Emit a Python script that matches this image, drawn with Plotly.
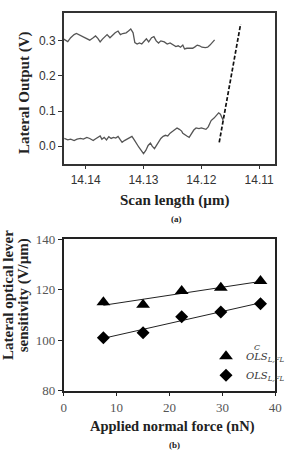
import numpy as np
import plotly.graph_objects as go

# ---------- Panel (a) data ----------
upper_x = [14.1438, 14.1431, 14.1426, 14.1420, 14.1416, 14.1410, 14.1404, 14.1398, 14.1393, 14.1387,
           14.1383, 14.1379, 14.1375, 14.1371, 14.1367, 14.1363, 14.1358, 14.1355, 14.1349, 14.1344,
           14.1340, 14.1336, 14.1330, 14.1326, 14.1322, 14.1318, 14.1315, 14.1311, 14.1307, 14.1303,
           14.1298, 14.1295, 14.1291, 14.1286, 14.1282, 14.1278, 14.1274, 14.1270, 14.1264, 14.1259,
           14.1254, 14.1248, 14.1244, 14.1240, 14.1236, 14.1232, 14.1229, 14.1225, 14.1221, 14.1215,
           14.1211, 14.1207, 14.1203, 14.1199, 14.1193, 14.1189, 14.1185, 14.1181, 14.1177]
upper_y = [0.305, 0.298, 0.309, 0.318, 0.321, 0.316, 0.311, 0.305, 0.302, 0.309,
           0.314, 0.307, 0.297, 0.305, 0.311, 0.318, 0.309, 0.314, 0.323, 0.328,
           0.318, 0.321, 0.323, 0.328, 0.334, 0.323, 0.295, 0.291, 0.294, 0.291,
           0.300, 0.306, 0.297, 0.309, 0.312, 0.300, 0.294, 0.300, 0.297, 0.291,
           0.294, 0.288, 0.284, 0.286, 0.282, 0.288, 0.277, 0.279, 0.279, 0.279,
           0.283, 0.288, 0.286, 0.282, 0.281, 0.282, 0.288, 0.297, 0.303]

lower_x = [14.1437, 14.1431, 14.1426, 14.1420, 14.1415, 14.1409, 14.1404, 14.1398, 14.1393, 14.1387,
           14.1384, 14.1379, 14.1375, 14.1372, 14.1368, 14.1364, 14.1360, 14.1356, 14.1352, 14.1348,
           14.1344, 14.1340, 14.1337, 14.1333, 14.1329, 14.1325, 14.1320, 14.1316, 14.1313, 14.1308,
           14.1304, 14.1300, 14.1296, 14.1292, 14.1288, 14.1285, 14.1281, 14.1277, 14.1274, 14.1270,
           14.1266, 14.1262, 14.1258, 14.1254, 14.1249, 14.1245, 14.1242, 14.1238, 14.1234, 14.1232,
           14.1228, 14.1225, 14.1221, 14.1217, 14.1213, 14.1209, 14.1204, 14.1200, 14.1196, 14.1192,
           14.1188, 14.1185, 14.1183, 14.1178, 14.1174, 14.1170, 14.1167, 14.1164, 14.1162]
lower_y = [0.022, 0.018, 0.020, 0.016, 0.020, 0.022, 0.020, 0.025, 0.022, 0.016,
           0.020, 0.025, 0.029, 0.020, 0.025, 0.018, 0.027, 0.022, 0.025, 0.023,
           0.028, 0.018, 0.011, 0.016, 0.020, 0.022, 0.028, 0.018, 0.009, -0.003,
           -0.012, -0.021, -0.012, 0.002, 0.009, 0.000, -0.007, 0.004, 0.013, 0.022,
           0.028, 0.031, 0.029, 0.037, 0.043, 0.048, 0.052, 0.048, 0.043, 0.037,
           0.031, 0.029, 0.025, 0.037, 0.046, 0.052, 0.050, 0.052, 0.050, 0.048,
           0.055, 0.064, 0.073, 0.080, 0.089, 0.095, 0.091, 0.077, 0.073]

fit_a_x = [14.1169, 14.1132]
fit_a_y = [0.011, 0.348]

a_xticks = [14.14, 14.13, 14.12, 14.11]
a_yticks = [0.0, 0.1, 0.2, 0.3]

# ---------- Panel (b) data ----------
force = [7.5, 15.0, 22.3, 29.7, 37.2]
ols_c = [115.0, 114.0, 119.5, 120.8, 123.4]
ols = [101.0, 102.9, 109.3, 111.2, 114.4]

b_xticks = [0, 10, 20, 30, 40]
b_yticks = [80, 100, 120, 140]

W, H = 293, 462

fig = go.Figure()

# Panel (a)
fig.add_trace(go.Scatter(x=upper_x, y=upper_y, mode="lines", line=dict(color="#555555", width=1.3),
                         xaxis="x", yaxis="y", showlegend=False, hoverinfo="skip"))
fig.add_trace(go.Scatter(x=lower_x, y=lower_y, mode="lines", line=dict(color="#555555", width=1.3),
                         xaxis="x", yaxis="y", showlegend=False, hoverinfo="skip"))
fig.add_trace(go.Scatter(x=fit_a_x, y=fit_a_y, mode="lines",
                         line=dict(color="#111111", width=1.7, dash="4px,2px"),
                         xaxis="x", yaxis="y", showlegend=False, hoverinfo="skip"))

# Panel (b) fit lines
fx = np.array(force)
for ys in (ols_c, ols):
    k, b = np.polyfit(fx, np.array(ys), 1)
    xs = [force[0], force[-1]]
    fig.add_trace(go.Scatter(x=xs, y=[k * v + b for v in xs], mode="lines",
                             line=dict(color="#222222", width=1),
                             xaxis="x2", yaxis="y2", showlegend=False, hoverinfo="skip"))

legend_name = "<i>OLS</i><sub><i>L,FL</i></sub>"
fig.add_trace(go.Scatter(x=force, y=ols_c, mode="markers", name=legend_name,
                         marker=dict(symbol="triangle-up", size=12, color="black"),
                         xaxis="x2", yaxis="y2"))
fig.add_trace(go.Scatter(x=force, y=ols, mode="markers", name=legend_name + " ",
                         marker=dict(symbol="diamond", size=10, color="black"),
                         xaxis="x2", yaxis="y2"))

xdom = [64 / W, 287 / W]
axis_common = dict(showgrid=False, zeroline=False, showline=True, mirror=True,
                   ticks="outside", ticklen=4, tickwidth=1)

fig.update_layout(
    width=W, height=H,
    margin=dict(l=0, r=0, t=0, b=0),
    paper_bgcolor="white", plot_bgcolor="white",
    xaxis=dict(domain=xdom, anchor="y", range=[14.1438, 14.1072],
               tickvals=a_xticks, ticktext=[f"{v:.2f}" for v in a_xticks],
               linecolor="#333333", linewidth=1.5, tickcolor="#333333",
               tickfont=dict(family="Liberation Sans", size=12, color="#333333"),
               **axis_common),
    yaxis=dict(domain=[1 - 162 / H, 1 - 6 / H], anchor="x", range=[-0.05, 0.38],
               tickvals=a_yticks, ticktext=[f"{v:.1f}" for v in a_yticks],
               linecolor="#333333", linewidth=1.5, tickcolor="#333333",
               tickfont=dict(family="Liberation Sans", size=12, color="#333333"),
               **axis_common),
    xaxis2=dict(domain=xdom, anchor="y2", range=[0, 40],
                tickvals=b_xticks,
                linecolor="#222222", linewidth=1.5, tickcolor="#222222",
                tickfont=dict(family="Liberation Serif", size=13, color="#555555"),
                **axis_common),
    yaxis2=dict(domain=[1 - 396.5 / H, 1 - 240 / H], anchor="x2", range=[80, 140],
                tickvals=b_yticks,
                linecolor="#222222", linewidth=1.5, tickcolor="#222222",
                tickfont=dict(family="Liberation Serif", size=13, color="#555555"),
                **axis_common),
    legend=dict(x=214 / W, y=1 - 346 / H, xanchor="left", yanchor="top",
                bgcolor="rgba(0,0,0,0)", tracegroupgap=0,
                font=dict(family="DejaVu Serif", size=10, color="#333333")),
    showlegend=True,
)

title_font = dict(family="Liberation Serif", size=15, color="#222222")
ann = [
    dict(text="<b>Lateral Output (V)</b>", x=22 / W, y=1 - 88 / H, textangle=-90, font=title_font),
    dict(text="<b>Scan length (µm)</b>", x=181 / W, y=1 - 200 / H, font=title_font),
    dict(text="<b>(a)</b>", x=183 / W, y=1 - 219 / H,
         font=dict(family="Liberation Serif", size=9, color="#222222")),
    dict(text="<b>Lateral optical lever</b>", x=6 / W, y=1 - 298 / H,
         textangle=-90, font=dict(family="Liberation Serif", size=15, color="#222222")),
    dict(text="<b>sensitivity (V/µm)</b>", x=21 / W, y=1 - 298 / H,
         textangle=-90, font=dict(family="Liberation Serif", size=15, color="#222222")),
    dict(text="<b>Applied normal force (nN)</b>", x=179 / W, y=1 - 434 / H,
         font=dict(family="Liberation Serif", size=14.5, color="#222222")),
    dict(text="<b>(b)</b>", x=181 / W, y=1 - 453 / H,
         font=dict(family="Liberation Serif", size=9, color="#222222")),
    dict(text="<i>C</i>", x=268 / W, y=1 - 352 / H,
         font=dict(family="DejaVu Serif", size=8, color="#333333")),
]
for a in ann:
    a.update(xref="paper", yref="paper", showarrow=False, xanchor="center", yanchor="middle")
fig.update_layout(annotations=ann)

fig.write_html("out.html")
